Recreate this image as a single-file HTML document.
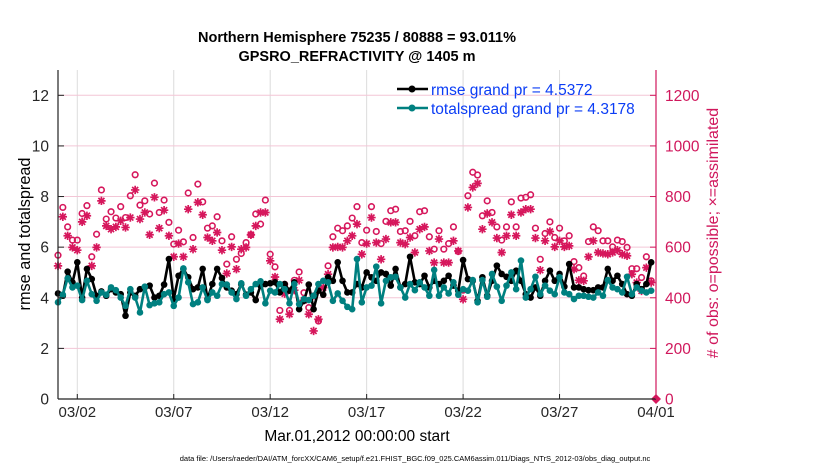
<!DOCTYPE html>
<html><head><meta charset="utf-8"><style>
html,body{margin:0;padding:0;background:#fff;}
svg{display:block;font-family:"Liberation Sans",Arial,sans-serif;}
</style></head><body>
<svg id="chart" width="830" height="470" viewBox="0 0 830 470" xmlns="http://www.w3.org/2000/svg">
<text x="357" y="42" text-anchor="middle" font-size="14.5" font-weight="bold">Northern Hemisphere 75235 / 80888 = 93.011%</text>
<text x="357" y="61" text-anchor="middle" font-size="14.5" font-weight="bold">GPSRO_REFRACTIVITY @ 1405 m</text>
<g id="grid"></g>
<g id="marks"></g>
<g id="axes"></g>
<text transform="translate(30,234) rotate(-90)" text-anchor="middle" font-size="16.3">rmse and totalspread</text>
<text transform="translate(718,233) rotate(-90)" text-anchor="middle" font-size="16" fill="#d0175c"># of obs: o=possible; ×=assimilated</text>
<text x="357" y="441" text-anchor="middle" font-size="15.5">Mar.01,2012 00:00:00 start</text>
<text x="415" y="461" text-anchor="middle" font-size="7.5">data file: /Users/raeder/DAI/ATM_forcXX/CAM6_setup/f.e21.FHIST_BGC.f09_025.CAM6assim.011/Diags_NTrS_2012-03/obs_diag_output.nc</text>
<g>
<line x1="397" y1="89" x2="428" y2="89" stroke="#000" stroke-width="2.5"/>
<circle cx="412" cy="89" r="3.5" fill="#000"/>
<text x="431" y="95" font-size="15.5" fill="#0b3df5">rmse grand pr = 4.5372</text>
<line x1="397" y1="108" x2="428" y2="108" stroke="#008080" stroke-width="2.5"/>
<circle cx="412" cy="108" r="3.5" fill="#008080"/>
<text x="431" y="114" font-size="15.5" fill="#0b3df5">totalspread grand pr = 4.3178</text>
</g>
</svg>
<script>
const dateLabels = ["03/02","03/07","03/12","03/17","03/22","03/27","04/01"];
const dateTickDays = [1,6,11,16,21,26,31];
const leftTicks = [0,2,4,6,8,10,12];
const rightTicks = [0,200,400,600,800,1000,1200];
const rmse = [4.17,4.08,5.03,4.61,5.40,4.01,5.14,4.74,4.08,4.25,4.08,4.34,4.21,4.14,3.29,4.21,4.08,4.34,4.41,4.48,4.01,4.08,4.52,5.53,3.95,4.87,5.14,4.81,4.34,4.41,5.14,3.95,4.54,5.14,4.78,4.41,4.28,4.14,4.54,4.12,4.21,3.91,4.48,
4.54,4.57,4.61,4.21,4.54,4.28,4.61,3.55,3.88,4.52,3.55,4.28,4.12,4.81,4.67,5.40,4.67,4.21,4.21,4.54,4.41,5.00,4.81,4.67,5.00,4.94,4.48,5.14,4.41,4.54,5.62,4.61,4.54,4.87,4.41,4.67,4.54,4.67,4.87,4.48,4.28,5.49,
4.74,4.67,3.88,4.81,4.08,4.67,5.27,4.94,4.83,4.67,5.07,4.67,4.14,4.01,4.41,4.08,4.67,5.07,4.67,4.94,4.44,5.33,4.41,4.41,4.34,4.30,4.30,4.41,4.41,5.14,4.67,4.87,4.54,4.14,4.08,4.54,4.34,4.54,5.40];
const spread = [3.82,4.12,4.77,4.41,4.48,3.91,4.67,4.14,3.88,4.21,4.12,4.41,4.30,4.01,3.68,4.34,4.01,3.42,4.44,3.71,3.78,3.82,4.14,4.21,3.68,4.01,5.16,4.61,3.75,3.82,4.41,3.91,4.21,4.08,4.54,4.52,4.21,3.95,4.57,4.08,4.34,4.54,4.65,
3.78,4.28,4.21,4.54,4.34,3.78,4.54,3.75,3.95,3.91,4.08,4.54,4.67,4.61,3.88,4.17,3.88,3.64,3.55,5.53,3.82,4.41,4.48,5.23,3.78,4.67,4.81,4.83,4.41,4.01,4.54,4.30,4.61,4.41,4.08,5.10,4.08,4.41,4.17,4.61,4.12,4.34,
4.28,4.70,3.82,4.70,4.04,4.94,4.44,3.88,4.48,5.00,4.34,5.47,4.01,4.34,4.83,4.14,4.48,4.28,4.14,4.81,4.21,4.14,3.95,4.08,4.08,4.04,4.01,4.21,4.08,4.70,4.41,4.34,4.21,4.83,4.14,4.41,4.28,4.21,4.28];
const possible = [568,757,680,628,628,733,764,562,651,826,711,740,715,760,717,803,886,766,783,731,853,737,786,698,612,667,621,814,638,849,779,675,684,720,625,533,641,552,575,618,649,731,691,
786,572,522,350,453,350,469,502,420,361,407,308,451,526,641,675,665,684,715,760,618,667,760,662,614,702,744,750,662,665,702,645,740,744,641,592,665,592,614,680,583,430,
803,896,885,724,783,737,680,628,680,779,680,794,797,807,675,552,654,700,638,675,625,645,543,519,486,622,680,665,625,625,601,628,622,599,515,515,480,562,467];
const assimilated = [526,720,645,599,588,700,724,526,599,783,684,671,680,704,678,717,826,711,737,649,797,675,746,645,562,614,562,750,592,777,728,638,625,658,588,496,601,513,592,599,649,684,737,
737,546,482,315,416,335,430,469,390,335,269,315,440,493,599,601,599,625,645,691,572,614,717,618,552,632,698,698,618,612,638,579,671,680,585,539,632,539,539,625,585,394,
757,836,852,671,733,698,636,579,645,728,645,737,750,750,636,509,625,662,601,625,601,605,513,469,467,562,625,579,575,572,579,588,572,566,493,460,427,519,460];
const finalDay = 31, finalPossible = 0;

const L=58,R=656,T=70,B=399;
const xS=d=>L+(d/31)*(R-L);
const yL=v=>B-(v/13)*(B-T);
const yR=v=>B-(v/1300)*(B-T);
const NS="http://www.w3.org/2000/svg";
function mk(tag,attrs,parent){const e=document.createElementNS(NS,tag);for(const k in attrs)e.setAttribute(k,attrs[k]);parent.appendChild(e);return e;}
const grid=document.getElementById('grid'),marks=document.getElementById('marks'),axes=document.getElementById('axes');
dateTickDays.forEach((d,i)=>{
  const g=mk('line',{x1:xS(d),x2:xS(d),y1:T,y2:B,stroke:'#dcdcdc','stroke-width':1},grid);
  
  
  const t=mk('line',{x1:xS(d),x2:xS(d),y1:B,y2:B-5,stroke:'#222','stroke-width':1},axes);
  
  
  const lb=mk('text',{x:xS(d),y:B+18,'text-anchor':'middle','font-size':15,fill:'#262626'},axes);
  lb.textContent=dateLabels[i];
  
  
});
rightTicks.forEach(v=>{
  if(v>0){const g=mk('line',{x1:L,x2:R,y1:yR(v),y2:yR(v),stroke:'#f3c6d6','stroke-width':1},grid);
  
  }
  const t=mk('line',{x1:R,x2:R-6,y1:yR(v),y2:yR(v),stroke:'#d0175c','stroke-width':1},axes);
  
  
  const lb=mk('text',{x:R+9,y:yR(v)+5.5,'font-size':15.5,fill:'#d0175c'},axes);
  lb.textContent=v;
  
  
});
leftTicks.forEach(v=>{
  const t=mk('line',{x1:L,x2:L+6,y1:yL(v),y2:yL(v),stroke:'#222','stroke-width':1},axes);
  
  
  const lb=mk('text',{x:L-9,y:yL(v)+5.5,'text-anchor':'end','font-size':15.5,fill:'#262626'},axes);
  lb.textContent=v;
  
  
});
const ax1=mk('line',{x1:L,x2:L,y1:T,y2:B,stroke:'#222','stroke-width':1.2},axes);


const ax2=mk('line',{x1:L,x2:R,y1:B,y2:B,stroke:'#222','stroke-width':1.2},axes);


const ax3=mk('line',{x1:R,x2:R,y1:T,y2:B,stroke:'#d0175c','stroke-width':1.2},axes);



const pink='#d6175c';
possible.forEach((v,i)=>{
  const c=mk('circle',{cx:xS(i*0.25),cy:yR(v),r:2.8,fill:'none',stroke:pink,'stroke-width':1.6},marks);
  
  
});
assimilated.forEach((v,i)=>{
  const x=xS(i*0.25),y=yR(v),s=4.2,d=3;
  const p=mk('path',{d:`M${x-s},${y}H${x+s}M${x},${y-s}V${y+s}M${x-d},${y-d}L${x+d},${y+d}M${x-d},${y+d}L${x+d},${y-d}`,stroke:pink,'stroke-width':1.7,fill:'none'},marks);
  
  
});
const dm=mk('path',{d:`M${xS(finalDay)},${yR(finalPossible)-5}l5,5l-5,5l-5,-5z`,fill:pink},marks);



function series(arr,color,name){
  const pts=arr.map((v,i)=>xS(i*0.25).toFixed(1)+','+yL(v).toFixed(1)).join(' ');
  const pl=mk('polyline',{points:pts,fill:'none',stroke:color,'stroke-width':2.6,'stroke-linejoin':'round'},marks);
  
  
  arr.forEach((v,i)=>{
    const c=mk('circle',{cx:xS(i*0.25),cy:yL(v),r:3.3,fill:color},marks);
    
    
  });
}
series(rmse,'#000','rmse');
series(spread,'#008080','totalspread');
</script>
</body></html>
